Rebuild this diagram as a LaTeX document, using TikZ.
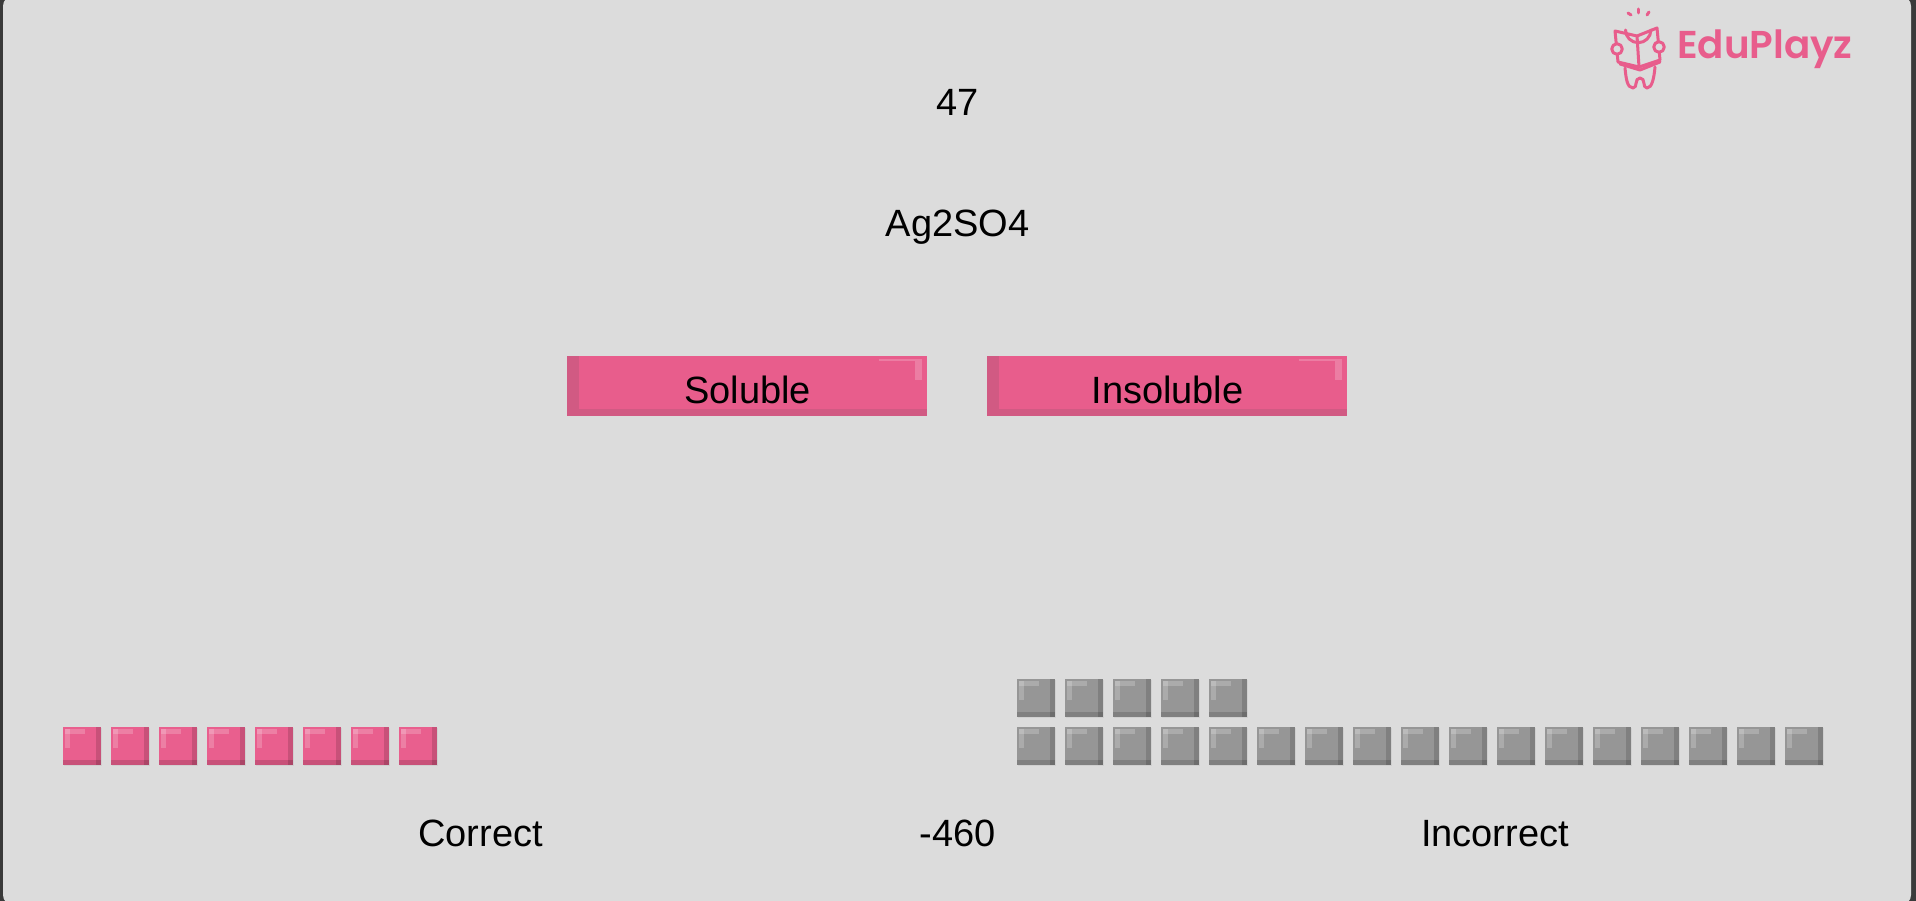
\documentclass[tikz,border=0pt]{standalone}
\usepackage{fontspec}
\setmainfont{Liberation Sans}
\newfontfamily\logofont[UprightFont=* SemiBold]{Poppins}

\definecolor{framedark}{HTML}{3A3A3A}
\definecolor{panelgrey}{HTML}{DCDCDC}
\definecolor{brandpink}{HTML}{E85D8C}
\definecolor{pinkshade}{HTML}{D15A83}
\definecolor{tilepink}{HTML}{E95F8E}
\definecolor{tilegrey}{HTML}{969696}

\tikzset{
    gametext/.style={font=\fontsize{38}{45}\selectfont, text=black, anchor=base, inner sep=0pt},
    logoline/.style={draw=brandpink, line width=3pt, line join=round, line cap=round},
    pics/tile/.style={
        code={
            \fill[#1] (0,0) rectangle (38,38);
            \fill[black, opacity=0.14] (33,0) rectangle (38,38);
            \fill[black, opacity=0.14] (0,33) rectangle (38,38);
            \fill[white, opacity=0.2] (2,2) rectangle (22,7);
            \fill[white, opacity=0.2] (2,2) rectangle (7,21);
            \fill[black, opacity=0.05] (38,1) rectangle (39,39);
            \fill[black, opacity=0.05] (1,38) rectangle (38,39);
        }
    },
    pics/bigbutton/.style={
        code={
            \fill[brandpink] (0,0) rectangle (360,60);
            \fill[pinkshade] (0,0) rectangle (12,60);
            \fill[pinkshade] (0,53) rectangle (360,60);
            \fill[white, opacity=0.2] (312,2.5) rectangle (355,5);
            \fill[white, opacity=0.2] (348,5) rectangle (355,24);
        }
    }
}

\begin{document}
\begin{tikzpicture}[x=1pt, y=-1pt]

    % Frame and panel
    \path[use as bounding box, clip] (0,0) rectangle (1916,901);
    \fill[framedark] (0,0) rectangle (1916,901);
    \fill[panelgrey, rounded corners=10pt] (3,-4) rectangle (1911,905);

    % Logo
    \draw[logoline] (1625.5,30) arc (180:0:12.7);
    \draw[logoline] (1628,13) -- (1631,15);
    \draw[logoline] (1638,9) -- (1638,13);
    \draw[logoline] (1647,15) -- (1649,12);
    \draw[logoline] (1615,31) -- (1637,36) -- (1657,28) -- (1660,60) -- (1639,67) -- (1618,62) -- cycle;
    \draw[logoline] (1637,36) -- (1639,67);
    \draw[logoline, fill=panelgrey] (1617,49) circle (5.3);
    \draw[logoline, fill=panelgrey] (1659,47) circle (5.3);
    \draw[logoline] (1620,64) -- (1640,70) -- (1660,62);
    \draw[logoline] (1625,68) .. controls (1626,78) and (1627,88) .. (1633,88)
        .. controls (1638,88) and (1634,78) .. (1640,78)
        .. controls (1646,78) and (1642,88) .. (1647,88)
        .. controls (1652,88) and (1654,78) .. (1655,67);
    \node[inner sep=0pt, anchor=base west, text=brandpink] (logotext) at (1677,59)
        {\logofont\fontsize{38.8}{45}\selectfont EduPlayz};

    % Question texts
    \node[gametext] (counter) at (957.5,116) {47};
    \node[gametext] (formula) at (957.5,237) {Ag2SO4};

    % Answer buttons
    \pic at (567,356) {bigbutton};
    \pic at (987,356) {bigbutton};
    \node[gametext] (soluble) at (747.5,403) {Soluble};
    \node[gametext] (insoluble) at (1167.5,403) {Insoluble};

    % Correct answers
    \foreach \i in {0,...,7}
        \pic at ({63+48*\i},727) {tile=tilepink};

    % Incorrect answers
    \foreach \i in {0,...,4}
        \pic at ({1017+48*\i},679) {tile=tilegrey};
    \foreach \i in {0,...,16}
        \pic at ({1017+48*\i},727) {tile=tilegrey};

    % Bottom line
    \node[gametext] (correct) at (480.5,846) {Correct};
    \node[gametext] (score) at (957.5,846) {-460};
    \node[gametext] (incorrect) at (1495,846) {Incorrect};

\end{tikzpicture}
\end{document}
